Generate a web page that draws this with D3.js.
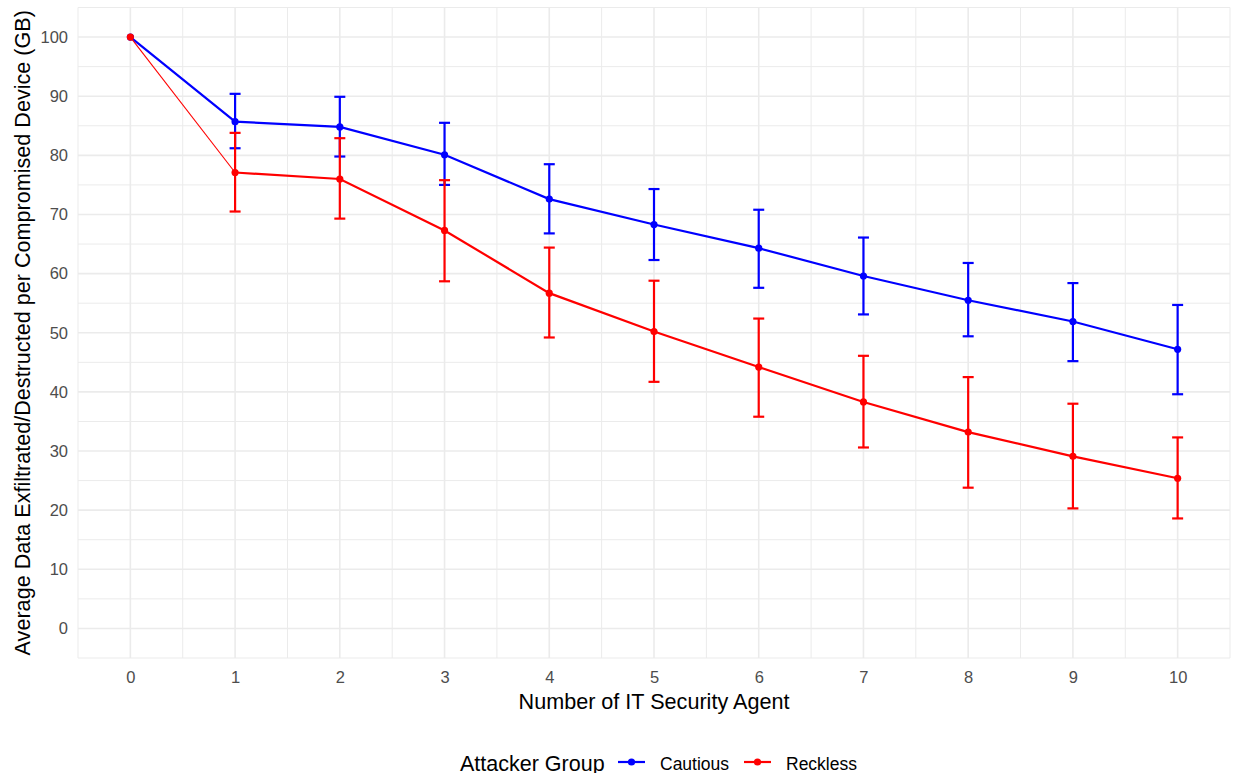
<!DOCTYPE html>
<html>
<head>
<meta charset="utf-8">
<script src="https://cdn.jsdelivr.net/npm/d3@7"></script>
<style>
  body { margin: 0; background: #fff; }
  svg { font-family: "Liberation Sans", Arial, sans-serif; }
</style>
</head>
<body>
<div id="vis"></div>
<script>
// data
const agents = [0, 1, 2, 3, 4, 5, 6, 7, 8, 9, 10];
const cautiousMean = [100, 85.7, 84.8, 80.1, 72.6, 68.3, 64.3, 59.6, 55.5, 51.9, 47.2];
const cautiousLow  = [100, 81.2, 79.8, 75.0, 66.8, 62.3, 57.6, 53.1, 49.4, 45.2, 39.6];
const cautiousHigh = [100, 90.4, 89.9, 85.5, 78.5, 74.3, 70.8, 66.1, 61.8, 58.4, 54.7];
const recklessMean = [100, 77.1, 76.0, 67.3, 56.7, 50.2, 44.2, 38.3, 33.2, 29.1, 25.4];
const recklessLow  = [100, 70.5, 69.3, 58.7, 49.2, 41.7, 35.8, 30.6, 23.8, 20.3, 18.6];
const recklessHigh = [100, 83.8, 82.9, 75.8, 64.4, 58.8, 52.4, 46.1, 42.5, 38.0, 32.3];
const yTicks = [0, 10, 20, 30, 40, 50, 60, 70, 80, 90, 100];
const groups = ["Cautious", "Reckless"];
const groupColors = ["#0000ff", "#ff0000"];

// set constants
const FRAME_WIDTH = 1239;
const FRAME_HEIGHT = 773;
const PANEL = {left: 78, right: 1230, top: 7.5, bottom: 658};

const FRAME = d3.select("#vis")
                .append("svg")
                  .attr("width", FRAME_WIDTH)
                  .attr("height", FRAME_HEIGHT);

const X_SCALE = d3.scaleLinear()
                  .domain([-0.5, 10.5])
                  .range([PANEL.left, PANEL.right]);

const Y_SCALE = d3.scaleLinear()
                  .domain([-5, 105])
                  .range([PANEL.bottom, PANEL.top]);

// build series
const series = [
  {name: groups[0], color: groupColors[0], mean: cautiousMean, low: cautiousLow, high: cautiousHigh},
  {name: groups[1], color: groupColors[1], mean: recklessMean, low: recklessLow, high: recklessHigh}
].map(s => ({
  name: s.name,
  color: s.color,
  points: agents.map((a, i) => ({x: a, y: s.mean[i], lo: s.low[i], hi: s.high[i]}))
}));

// grid lines (minor then major)
const grid = FRAME.append("g");
const xMinor = d3.range(-0.5, 10.51, 1);
const yMinor = d3.range(-5, 105.1, 10);

grid.selectAll(".xminor").data(xMinor).enter().append("line")
    .attr("x1", d => X_SCALE(d)).attr("x2", d => X_SCALE(d))
    .attr("y1", PANEL.top).attr("y2", PANEL.bottom)
    .attr("stroke", "#ebebeb").attr("stroke-width", 1);
grid.selectAll(".yminor").data(yMinor).enter().append("line")
    .attr("x1", PANEL.left).attr("x2", PANEL.right)
    .attr("y1", d => Y_SCALE(d)).attr("y2", d => Y_SCALE(d))
    .attr("stroke", "#ebebeb").attr("stroke-width", 1);
grid.selectAll(".xmajor").data(agents).enter().append("line")
    .attr("x1", d => X_SCALE(d)).attr("x2", d => X_SCALE(d))
    .attr("y1", PANEL.top).attr("y2", PANEL.bottom)
    .attr("stroke", "#ebebeb").attr("stroke-width", 1.6);
grid.selectAll(".ymajor").data(yTicks).enter().append("line")
    .attr("x1", PANEL.left).attr("x2", PANEL.right)
    .attr("y1", d => Y_SCALE(d)).attr("y2", d => Y_SCALE(d))
    .attr("stroke", "#ebebeb").attr("stroke-width", 1.6);

// axes (ticks hidden, labels only)
const xAxis = FRAME.append("g")
    .attr("transform", "translate(0," + PANEL.bottom + ")")
    .call(d3.axisBottom(X_SCALE).tickValues(agents).tickSize(0));
const yAxis = FRAME.append("g")
    .attr("transform", "translate(" + PANEL.left + ",0)")
    .call(d3.axisLeft(Y_SCALE).tickValues(yTicks).tickSize(0).tickPadding(10));
[xAxis, yAxis].forEach(ax => {
  ax.select(".domain").remove();
  ax.selectAll("text")
    .attr("fill", "#4d4d4d")
    .attr("font-size", "16.5px")
    .attr("font-family", "Liberation Sans, Arial, sans-serif");
});
xAxis.selectAll("text").attr("y", 25).attr("dy", 0);

// error bars
const line = d3.line().x(d => X_SCALE(d.x)).y(d => Y_SCALE(d.y));

series.forEach(s => {
  const g = FRAME.append("g");
  const bars = s.points.filter(d => d.x > 0);
  g.selectAll(".err").data(bars).enter().append("line")
      .attr("x1", d => X_SCALE(d.x)).attr("x2", d => X_SCALE(d.x))
      .attr("y1", d => Y_SCALE(d.lo)).attr("y2", d => Y_SCALE(d.hi))
      .attr("stroke", s.color).attr("stroke-width", 2.2);
  ["lo", "hi"].forEach(k => {
    g.selectAll(".cap" + k).data(bars).enter().append("line")
        .attr("x1", d => X_SCALE(d.x) - 5.5).attr("x2", d => X_SCALE(d.x) + 5.5)
        .attr("y1", d => Y_SCALE(d[k])).attr("y2", d => Y_SCALE(d[k]))
        .attr("stroke", s.color).attr("stroke-width", 2.2);
  });
});

// lines and points
series.forEach((s, i) => {
  const g = FRAME.append("g");
  // first segment of the reckless line is drawn thinner in the original
  if (i === 1) {
    g.append("path").datum(s.points.slice(0, 2))
        .attr("d", line).attr("fill", "none")
        .attr("stroke", s.color).attr("stroke-width", 1.1);
    g.append("path").datum(s.points.slice(1))
        .attr("d", line).attr("fill", "none")
        .attr("stroke", s.color).attr("stroke-width", 2.2);
  } else {
    g.append("path").datum(s.points)
        .attr("d", line).attr("fill", "none")
        .attr("stroke", s.color).attr("stroke-width", 2.2);
  }
  g.selectAll("circle").data(s.points).enter().append("circle")
      .attr("cx", d => X_SCALE(d.x)).attr("cy", d => Y_SCALE(d.y))
      .attr("r", 3.6).attr("fill", s.color);
});

// axis titles
FRAME.append("text")
    .attr("x", (PANEL.left + PANEL.right) / 2).attr("y", 709)
    .attr("text-anchor", "middle").attr("font-size", "21.6px").attr("fill", "#000")
    .text("Number of IT Security Agent");

FRAME.append("text")
    .attr("transform", "translate(30," + ((PANEL.top + PANEL.bottom) / 2) + ") rotate(-90)")
    .attr("text-anchor", "middle").attr("font-size", "21.6px").attr("fill", "#000")
    .text("Average Data Exfiltrated/Destructed per Compromised Device (GB)");

// legend
const legend = FRAME.append("g");
legend.append("text")
    .attr("x", 460).attr("y", 770.5)
    .attr("font-size", "21.5px").attr("fill", "#000")
    .text("Attacker Group");
const keyX = [618, 744];
series.forEach((s, i) => {
  legend.append("line")
      .attr("x1", keyX[i]).attr("x2", keyX[i] + 27)
      .attr("y1", 762).attr("y2", 762)
      .attr("stroke", s.color).attr("stroke-width", 2.2);
  legend.append("circle")
      .attr("cx", keyX[i] + 13.5).attr("cy", 762).attr("r", 3.6).attr("fill", s.color);
  legend.append("text")
      .attr("x", keyX[i] + 42).attr("y", 769.5)
      .attr("font-size", "17.5px").attr("fill", "#000")
      .text(s.name);
});
</script>
</body>
</html>
